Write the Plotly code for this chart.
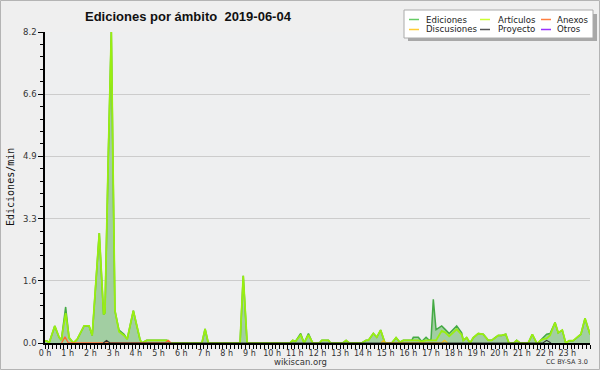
import plotly.graph_objects as go

# ---- data (time in hours, values in edits/min) ----
hours = [0.00, 0.09, 0.18, 0.43, 0.62, 0.72, 0.91, 1.06, 1.25, 1.42, 1.72, 1.94, 2.08, 2.39,
         2.58, 2.64, 2.79, 2.92, 2.99, 3.08, 3.26, 3.48, 3.62, 3.89, 4.18, 4.26, 4.48, 5.37,
         5.50, 6.91, 7.05, 7.19, 8.59, 8.73, 8.90, 10.79, 10.91, 11.03, 11.26, 11.41, 11.60,
         11.79, 12.08, 12.19, 12.48, 12.58, 13.11, 13.26, 13.40, 13.95, 14.14, 14.24, 14.46,
         14.61, 14.78, 14.97, 15.27, 15.46, 15.63, 15.78, 16.15, 16.22, 16.44, 16.59, 16.78,
         16.92, 17.00, 17.10, 17.22, 17.47, 17.62, 17.80, 18.13, 18.35, 18.42, 18.57, 18.72,
         18.86, 19.08, 19.30, 19.52, 19.67, 19.82, 19.96, 20.11, 20.29, 20.43, 20.65, 20.77,
         20.92, 21.28, 21.46, 21.65, 21.71, 21.80, 21.94, 22.09, 22.24, 22.46, 22.60, 22.78,
         22.93, 23.08, 23.26, 23.49, 23.60, 23.78, 23.93, 24.00]

ediciones = [0.05, 0.05, 0.00, 0.45, 0.15, 0.08, 0.95, 0.14, 0.00, 0.10, 0.45, 0.45, 0.20, 2.90,
             0.75, 0.80, 5.00, 8.20, 4.90, 0.85, 0.34, 0.23, 0.10, 0.85, 0.10, 0.00, 0.07, 0.07,
             0.00, 0.00, 0.37, 0.00, 0.00, 1.77, 0.00, 0.00, 0.07, 0.04, 0.25, 0.00, 0.25,
             0.00, 0.00, 0.07, 0.07, 0.00, 0.00, 0.07, 0.00, 0.00, 0.07, 0.07, 0.25,
             0.15, 0.34, 0.00, 0.00, 0.14, 0.02, 0.07, 0.07, 0.15, 0.15, 0.04, 0.15,
             0.07, 0.10, 1.15, 0.35, 0.45, 0.36, 0.25, 0.45, 0.27, 0.07, 0.14, 0.00,
             0.14, 0.25, 0.23, 0.07, 0.07, 0.14, 0.20, 0.20, 0.23, 0.00, 0.00, 0.07,
             0.00, 0.00, 0.23, 0.00, 0.00, 0.06, 0.14, 0.23, 0.25, 0.54, 0.27, 0.34,
             0.00, 0.06, 0.06, 0.18, 0.23, 0.65, 0.32, 0.23]

articulos = [0.05, 0.05, 0.00, 0.45, 0.15, 0.08, 0.79, 0.14, 0.00, 0.10, 0.45, 0.45, 0.20, 2.90,
             0.75, 0.80, 5.00, 8.20, 4.90, 0.85, 0.30, 0.20, 0.10, 0.85, 0.10, 0.00, 0.07, 0.07,
             0.00, 0.00, 0.37, 0.00, 0.00, 1.77, 0.00, 0.00, 0.07, 0.04, 0.21, 0.00, 0.21,
             0.00, 0.00, 0.07, 0.07, 0.00, 0.00, 0.07, 0.00, 0.00, 0.07, 0.07, 0.25,
             0.15, 0.34, 0.00, 0.00, 0.14, 0.02, 0.07, 0.07, 0.07, 0.07, 0.04, 0.07,
             0.07, 0.07, 0.07, 0.07, 0.32, 0.28, 0.18, 0.36, 0.22, 0.07, 0.14, 0.00,
             0.14, 0.25, 0.23, 0.07, 0.07, 0.14, 0.20, 0.20, 0.23, 0.00, 0.00, 0.07,
             0.00, 0.00, 0.23, 0.00, 0.00, 0.06, 0.10, 0.12, 0.20, 0.54, 0.27, 0.34,
             0.00, 0.06, 0.06, 0.18, 0.23, 0.65, 0.32, 0.23]

anexos_h = [0.73, 0.88, 1.03, 5.28, 5.43, 5.55]
anexos = [0.00, 0.16, 0.00, 0.00, 0.07, 0.00]

discusiones_h = [14.80, 14.90, 14.99, 17.47, 17.59, 17.73]
discusiones = [0.00, 0.06, 0.00, 0.00, 0.07, 0.00]

proyecto_h = [2.57, 2.71, 2.86, 21.93, 22.09, 22.28]
proyecto = [0.00, 0.07, 0.00, 0.00, 0.07, 0.00]

y_tickvals = [0.0, 1.64, 3.28, 4.92, 6.56, 8.2]
y_ticktext = ["0.0", "1.6", "3.3", "4.9", "6.6", "8.2"]
x_tickvals = list(range(24))
x_ticktext = [f"{h} h" for h in x_tickvals]

legend_names = ["Ediciones", "Artículos", "Anexos", "Discusiones", "Proyecto", "Otros"]
legend_colors = ["#66cc66", "#ccff33", "#ff7f40", "#ffcc33", "#555555", "#9933ff"]

title_text = "Ediciones por ámbito  2019-06-04"

# ---- layout geometry (pixels) ----
W, H = 600, 370
L, R, T, B = 45, 10, 32, 27
PW, PH = W - L - R, H - T - B


def px2x(px):
    return (px - L) / PW


def py2y(py):
    return (H - B - py) / PH


fig = go.Figure()

fig.add_trace(go.Scatter(x=hours, y=ediciones, mode="lines", fill="tozeroy",
                         fillcolor="#a2cea2", line=dict(color="#44aa44", width=1.5),
                         name="Ediciones", hoverinfo="skip"))
fig.add_trace(go.Scatter(x=hours, y=articulos, mode="lines",
                         line=dict(color="#99ee11", width=1.8),
                         name="Artículos", hoverinfo="skip"))
fig.add_trace(go.Scatter(x=anexos_h, y=anexos, mode="lines",
                         line=dict(color="#ff6a30", width=1.3), name="Anexos"))
fig.add_trace(go.Scatter(x=discusiones_h, y=discusiones, mode="lines",
                         line=dict(color="#f5c020", width=1.3), name="Discusiones"))
fig.add_trace(go.Scatter(x=proyecto_h, y=proyecto, mode="lines",
                         line=dict(color="#333333", width=1.1), name="Proyecto"))

shapes = []
annotations = []

# image border
shapes.append(dict(type="rect", xref="paper", yref="paper",
                   x0=px2x(0.5), x1=px2x(599.5), y0=py2y(369.5), y1=py2y(0.5),
                   line=dict(color="#b4b4b4", width=1), layer="below"))

# legend box with shadow
shapes.append(dict(type="rect", xref="paper", yref="paper",
                   x0=px2x(408), x1=px2x(597), y0=py2y(41), y1=py2y(14),
                   fillcolor="#a8a8a8", line=dict(width=0)))
shapes.append(dict(type="rect", xref="paper", yref="paper",
                   x0=px2x(404), x1=px2x(593), y0=py2y(38), y1=py2y(10),
                   fillcolor="#ffffff", line=dict(color="#aaaaaa", width=1)))
col_line_x = [(409, 419), (480, 490), (541, 551)]
col_text_x = [424, 496, 555]
row_y = [19.5, 29.5]
for i, (name, col) in enumerate(zip(legend_names, legend_colors)):
    r, c = divmod(i, 3)
    lx0, lx1 = col_line_x[c]
    shapes.append(dict(type="line", xref="paper", yref="paper",
                       x0=px2x(lx0), x1=px2x(lx1), y0=py2y(row_y[r]), y1=py2y(row_y[r]),
                       line=dict(color=col, width=1.5)))
    annotations.append(dict(x=px2x(col_text_x[c]), y=py2y(row_y[r]), xref="paper", yref="paper",
                            text=name, showarrow=False, xanchor="left", yanchor="middle",
                            font=dict(family="DejaVu Sans", size=8.6, color="#222222")))

# title
annotations.append(dict(x=px2x(188), y=py2y(16), xref="paper", yref="paper",
                        text="<b>" + title_text + "</b>", showarrow=False,
                        xanchor="center", yanchor="middle",
                        font=dict(family="Liberation Sans", size=13, color="#111111")))
# y axis title
annotations.append(dict(x=px2x(10), y=py2y(187), xref="paper", yref="paper",
                        text="Ediciones/min", showarrow=False, textangle=-90,
                        xanchor="center", yanchor="middle",
                        font=dict(family="DejaVu Sans Mono", size=10, color="#111111")))
# footer
annotations.append(dict(x=px2x(300), y=py2y(361.5), xref="paper", yref="paper",
                        text="wikiscan.org", showarrow=False, xanchor="center", yanchor="middle",
                        font=dict(family="DejaVu Sans", size=8.5, color="#333333")))
annotations.append(dict(x=px2x(590), y=py2y(362), xref="paper", yref="paper",
                        text="CC BY-SA 3.0", showarrow=False, xanchor="right", yanchor="middle",
                        font=dict(family="DejaVu Sans", size=6.5, color="#333333")))

fig.update_layout(
    width=W, height=H,
    margin=dict(l=L, r=R, t=T, b=B, pad=0),
    paper_bgcolor="#efefef",
    plot_bgcolor="#eeeff0",
    showlegend=False,
    shapes=shapes,
    annotations=annotations,
    xaxis=dict(range=[0, 24], tickvals=x_tickvals, ticktext=x_ticktext,
               ticks="outside", ticklen=4, tickwidth=1, tickcolor="#000000",
               ticklabelstandoff=-2,
               minor=dict(dtick=1 / 6, tick0=0, ticks="outside", ticklen=4,
                          tickwidth=1, tickcolor="#000000"),
               showline=True, linecolor="#000000", linewidth=1.5,
               showgrid=False, zeroline=False, fixedrange=True,
               tickfont=dict(family="DejaVu Sans", size=8, color="#333333")),
    yaxis=dict(range=[0, 8.2], tickvals=y_tickvals, ticktext=y_ticktext,
               ticks="outside", ticklen=5, tickwidth=1, tickcolor="#000000",
               minor=dict(dtick=1.64 / 5, tick0=0, ticks="outside", ticklen=3,
                          tickwidth=1, tickcolor="#000000", showgrid=False),
               showline=True, linecolor="#000000", linewidth=1.5,
               showgrid=True, gridcolor="#cccccc", gridwidth=1,
               zeroline=False, fixedrange=True,
               tickfont=dict(family="DejaVu Sans", size=8.5, color="#333333")),
)

fig.write_html("out.html")
